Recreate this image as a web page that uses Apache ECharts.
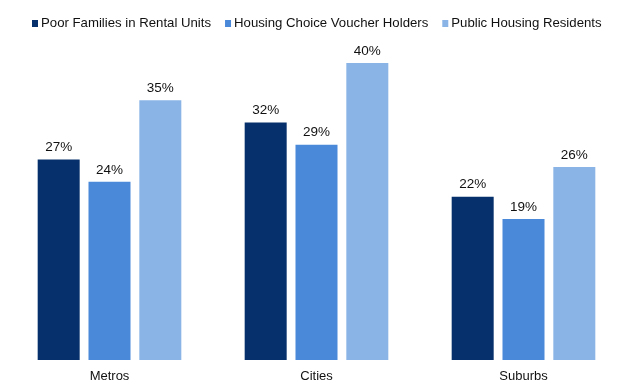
<!DOCTYPE html>
<html><head><meta charset="utf-8">
<script src="https://cdn.jsdelivr.net/npm/echarts@6/dist/echarts.min.js"></script>
<style>html,body{margin:0;padding:0;background:#fff}#c{width:630px;height:392px}</style>
</head><body><div id="c"></div>
<script>
const categories = ['Metros', 'Cities', 'Suburbs'];
const seriesNames = ['Poor Families in Rental Units', 'Housing Choice Voucher Holders', 'Public Housing Residents'];
const poorFamilies = [27, 32, 22];
const voucherHolders = [24, 29, 19];
const publicHousing = [35, 40, 26];
const colors = ['#06306b', '#4a88d9', '#8ab4e6'];
const font = 'Liberation Sans, Arial, sans-serif';
const dataSets = [poorFamilies, voucherHolders, publicHousing];
const chart = echarts.init(document.getElementById('c'));
chart.setOption({
  animation: false,
  textStyle: { fontFamily: font },
  legend: {
    top: 12, left: 27, itemWidth: 6, itemHeight: 7, itemGap: 14,
    icon: 'rect',
    textStyle: { fontFamily: font, fontSize: 13.2, color: '#111', padding: [0, 0, 0, -2] },
    data: seriesNames
  },
  grid: { left: 6, right: 3, top: 63, bottom: 32 },
  xAxis: {
    type: 'category', data: categories,
    axisLine: { show: false }, axisTick: { show: false },
    axisLabel: { fontFamily: font, fontSize: 13, color: '#111', margin: 10 }
  },
  yAxis: { type: 'value', min: 0, max: 40, show: false, splitLine: { show: false } },
  series: seriesNames.map((n, i) => ({
    name: n, type: 'bar', data: dataSets[i],
    barWidth: 42, barGap: '21%',
    itemStyle: { color: colors[i] },
    label: { show: true, position: 'top', distance: 5, formatter: '{c}%', fontFamily: font, fontSize: 13.5, color: '#111' }
  }))
});
</script></body></html>
